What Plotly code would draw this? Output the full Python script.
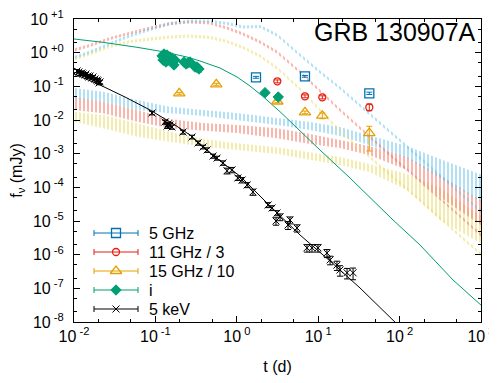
import plotly.graph_objects as go

# ---------------- model bands ----------------
t_thin = [0.01, 0.01572, 0.02769, 0.04875, 0.0858, 0.1511, 0.266, 0.4687, 0.7577, 1.192,
          1.928, 3.118, 5.975, 10.52, 18.53, 57.41, 178.1, 552.1, 1028]
blue_thin_hi = [0.796, 1.16, 2.046, 3.512, 5.404, 8.035, 9.66, 9.66, 8.145, 6.411,
                6.634, 3.71, 0.945, 0.2954, 0.0989, 0.00903, 0.000825, 7.53e-5, 2.05e-5]
blue_thin_lo = [0.649, 0.945, 1.667, 2.861, 4.401, 6.545, 7.87, 7.87, 6.634, 5.222,
                5.404, 3.021, 0.770, 0.2406, 0.0805, 0.00735, 0.000672, 6.13e-5, 1.67e-5]
red_thin_hi = [1.33, 1.809, 2.92, 4.253, 5.99, 8.145, 9.02, 8.43, 5.99, 3.972,
               2.298, 1.16, 0.2954, 0.0805, 0.02197, 0.001874, 0.000171, 1.562e-5, 3.98e-6]
red_thin_lo = [1.083, 1.474, 2.378, 3.464, 4.877, 6.634, 7.35, 6.865, 4.877, 3.235,
               1.872, 0.9447, 0.2406, 0.0656, 0.0179, 0.001526, 0.0001393, 1.272e-5, 3.24e-6]
yel_thin_hi = [0.7185, 1.012, 1.69, 2.378, 2.821, 3.235, 3.464, 3.127, 2.378, 1.578,
               0.8823, 0.3884, 0.0923, 0.02197, 0.005225, 0.000477, 4.665e-5, 3.977e-6, 1.085e-6]
yel_thin_lo = [0.5854, 0.824, 1.376, 1.937, 2.298, 2.635, 2.821, 2.547, 1.937, 1.285,
               0.7185, 0.3163, 0.0752, 0.0179, 0.004256, 0.000389, 3.8e-5, 3.24e-6, 8.84e-7]

t_wide = [0.01, 0.0227, 0.0594, 0.1511, 0.3843, 1.006, 3.118, 7.93, 18.53, 42.07, 123.3, 313.3, 1028]
blue_wide_hi = [0.0892, 0.06929, 0.03929, 0.02485, 0.01983, 0.01615, 0.01147, 0.00873, 0.0062,
                0.00359, 0.00169, 0.000695, 0.0002327]
blue_wide_lo = [0.04504, 0.03498, 0.01983, 0.01582, 0.01315, 0.01001, 0.00711, 0.00505, 0.00335,
                0.001811, 0.000744, 0.0001895, 3.672e-5]
red_wide_hi = [0.04825, 0.03498, 0.01983, 0.01072, 0.00815, 0.00711, 0.00567, 0.003842, 0.002548,
               0.00169, 0.000797, 0.0002327, 3.93e-5]
red_wide_lo = [0.01983, 0.01582, 0.00891, 0.00567, 0.004814, 0.004114, 0.002862, 0.00194, 0.001475,
               0.000914, 0.0003276, 5.17e-5, 7.11e-6]
yel_wide_hi = [0.01765, 0.01409, 0.00799, 0.004496, 0.002729, 0.002033, 0.001547, 0.001122, 0.000797,
               0.000494, 0.000249, 9.56e-5, 1.316e-5]
yel_wide_lo = [0.00891, 0.00567, 0.003193, 0.002269, 0.001612, 0.001286, 0.000978, 0.000649, 0.000461,
               0.0002857, 8.34e-5, 1.072e-5, 2.077e-6]

# ---------------- model lines ----------------
t_xmod = [0.01, 0.02086, 0.04231, 0.0858, 0.174, 0.266, 0.5397, 1.126, 2.558, 5.975, 13.96, 32.63, 101.2]
f_xmod = [0.2325, 0.1096, 0.04826, 0.01983, 0.00711, 0.00359, 0.000796, 0.000203, 2.79e-5,
          3.85e-6, 6.5e-7, 1.026e-7, 7.1e-9]
t_imod = [0.01, 0.0227, 0.0594, 0.124, 0.2443, 0.3531, 0.6218, 1.006, 1.452, 2.099, 3.395,
          5.975, 10.52, 24.58, 82.99, 178.1, 452.9, 1028]
f_imod = [2.547, 2.032, 1.444, 1.069, 0.7436, 0.5656, 0.3505, 0.1894, 0.1023, 0.0499, 0.01765,
          0.00472, 0.001285, 0.0001897, 1.072e-5, 1.94e-6, 1.77e-7, 2.99e-8]

# ---------------- data ----------------
t_5ghz = [1.721, 6.88, 42.45]
f_5ghz = [0.1856, 0.1987, 0.0621]
e_5ghz = [0.012, 0.012, 0.005]

t_11ghz = [3.145, 6.88, 11.23, 42.45]
f_11ghz = [0.1411, 0.0506, 0.0473, 0.02385]
e_11ghz_up = [0.014, 0.005, 0.005, 0.006]
e_11ghz_dn = [0.014, 0.005, 0.005, 0.005]

t_15ghz = [0.1966, 0.56, 3.145, 6.88, 11.23, 42.45]
f_15ghz = [0.0621, 0.115, 0.0355, 0.0169, 0.0134, 0.0041]
e_15ghz_up = [0.004, 0.008, 0.003, 0.0015, 0.0028, 0.0024]
e_15ghz_dn = [0.004, 0.008, 0.003, 0.0015, 0.0025, 0.0029]

t_i = [0.1206, 0.124, 0.1275, 0.1312, 0.1349, 0.1388, 0.1511, 0.16, 0.1645, 0.1692, 0.174,
       0.2245, 0.2377, 0.2515, 0.266, 0.3066, 0.3243, 0.343, 2.221, 3.234]
f_i = [0.796, 0.6058, 0.913, 0.6944, 0.5283, 0.8527, 0.7436, 0.6944, 0.5283, 0.4302, 0.6058,
       0.5283, 0.461, 0.4934, 0.5283, 0.375, 0.375, 0.327, 0.0647, 0.0482]
e_i = [0.08, 0.08, 0.09, 0.1, 0.1, 0.09, 0.08, 0.08, 0.08, 0.07, 0.07,
       0.06, 0.06, 0.06, 0.06, 0.05, 0.05, 0.06, 0.005, 0.004]

t_x = [0.0109, 0.0115, 0.0119, 0.0125, 0.0129, 0.0137, 0.0140, 0.0149, 0.0153, 0.0157, 0.0166,
       0.0171, 0.0181, 0.0192, 0.0197, 0.0209, 0.0203, 0.0908, 0.131, 0.139, 0.143, 0.151, 0.160,
       0.218, 0.282, 0.334, 0.385, 0.431, 0.510, 0.572, 0.677, 0.758, 0.873, 1.03, 1.16, 1.34,
       1.58, 2.42, 2.71, 3.12, 3.40, 3.03, 4.50, 4.26, 5.49, 7.28, 8.39, 9.94, 12.8, 14.0, 17.0,
       18.5, 22.6, 26.8]
f_x = [0.286, 0.267, 0.240, 0.249, 0.232, 0.217, 0.232, 0.203, 0.189, 0.203, 0.177,
       0.189, 0.165, 0.154, 0.144, 0.135, 0.126, 0.0162, 0.0087, 0.0066, 0.0076, 0.0071, 0.0062,
       0.0044, 0.00313, 0.00208, 0.00158, 0.00129, 0.00085, 0.00074, 0.00053, 0.00031, 0.00033,
       0.00019, 0.000165, 0.000118, 7.3e-5, 3.0e-5, 2.44e-5, 1.73e-5, 1.32e-5, 1.0e-5, 1.07e-5,
       7.6e-6, 6.2e-6, 1.59e-6, 1.59e-6, 1.59e-6, 1.12e-6, 7.0e-7, 4.9e-7, 3.5e-7, 2.9e-7, 2.9e-7]
e_x = [0.03, 0.03, 0.03, 0.03, 0.025, 0.025, 0.025, 0.02, 0.02, 0.02, 0.02,
       0.02, 0.02, 0.018, 0.018, 0.016, 0.015, 0.002, 0.0012, 0.001, 0.001, 0.001, 0.0009,
       0.0006, 0.0004, 0.0003, 0.0002, 0.0002, 0.00012, 0.0001, 0.00008, 0.00006, 0.00006,
       0.00003, 0.00003, 0.00002, 1.5e-5, 5e-6, 4e-6, 3e-6, 3e-6, 2.5e-6, 2.5e-6,
       2e-6, 1.5e-6, 4e-7, 4e-7, 4e-7, 3e-7, 2e-7, 1.5e-7, 1.2e-7, 1e-7, 1.1e-7]

x_ticks = [0.01, 0.1, 1, 10, 100, 1000]
x_ticklabels = ["10<sup> -2</sup>", "10<sup> -1</sup>", "10<sup> 0</sup>", "10<sup> 1</sup>",
                "10<sup> 2</sup>", "10<sup> 3</sup>"]
y_ticks = [1e-8, 1e-7, 1e-6, 1e-5, 1e-4, 1e-3, 1e-2, 1e-1, 1, 10]
y_ticklabels = ["10<sup> -8</sup>", "10<sup> -7</sup>", "10<sup> -6</sup>", "10<sup> -5</sup>",
                "10<sup> -4</sup>", "10<sup> -3</sup>", "10<sup> -2</sup>", "10<sup> -1</sup>",
                "10<sup> +0</sup>", "10<sup> +1</sup>"]
x_minor = [m * d for d in [0.01, 0.1, 1, 10, 100] for m in (2, 5)]
y_minor = [m * d for d in [1e-8, 1e-7, 1e-6, 1e-5, 1e-4, 1e-3, 1e-2, 1e-1, 1] for m in (2, 5)]

legend_names = ["5 GHz", "11 GHz / 3", "15 GHz / 10", "i", "5 keV"]

C_BLUE_BAND = "#66c2ea"
C_RED_BAND = "#f66c5a"
C_YEL_BAND = "#eada5c"
C_5 = "#0072b2"
C_11 = "#e51e10"
C_15 = "#e69f00"
C_I = "#009e73"
FONT = "Liberation Sans, Arial, sans-serif"

# The page body has an 8 px margin, so the figure is drawn 8 px right/down of the window corner.
BODY = 8
FIG_W, FIG_H = 497, 383
# plot-area geometry in window pixels
PX_L, PX_R, PX_T, PX_B = 74, 481, 19, 322

fig = go.Figure()


def band(t, lo, hi, color, solidity):
    fig.add_trace(go.Scatter(
        x=list(t) + list(t)[::-1], y=list(hi) + list(lo)[::-1],
        mode="lines", line=dict(width=0, color=color), fill="toself",
        fillcolor="rgba(0,0,0,0)",
        fillpattern=dict(shape="|", fgcolor=color, bgcolor="rgba(0,0,0,0)", size=4, solidity=solidity),
        showlegend=False, hoverinfo="skip"))


band(t_wide, yel_wide_lo, yel_wide_hi, C_YEL_BAND, 0.5)
band(t_wide, red_wide_lo, red_wide_hi, C_RED_BAND, 0.5)
band(t_wide, blue_wide_lo, blue_wide_hi, C_BLUE_BAND, 0.5)
band(t_thin, yel_thin_lo, yel_thin_hi, C_YEL_BAND, 0.55)
band(t_thin, red_thin_lo, red_thin_hi, C_RED_BAND, 0.55)
band(t_thin, blue_thin_lo, blue_thin_hi, C_BLUE_BAND, 0.55)

fig.add_trace(go.Scatter(x=t_imod, y=f_imod, mode="lines", line=dict(color=C_I, width=1),
                         showlegend=False, hoverinfo="skip"))
fig.add_trace(go.Scatter(x=t_xmod, y=f_xmod, mode="lines", line=dict(color="black", width=1),
                         showlegend=False, hoverinfo="skip"))

styles = [
    (C_5, "square-open", 9, 1.3),
    (C_11, "circle-open", 7, 1.3),
    (C_15, "triangle-up-open", 10, 1.3),
    (C_I, "diamond", 8, 1.0),
    ("black", "x-thin", 7, 1.0),
]
datasets = [
    (t_5ghz, f_5ghz, e_5ghz, e_5ghz),
    (t_11ghz, f_11ghz, e_11ghz_up, e_11ghz_dn),
    (t_15ghz, f_15ghz, e_15ghz_up, e_15ghz_dn),
    (t_i, f_i, e_i, e_i),
    (t_x, f_x, e_x, e_x),
]

for (t, f, up, dn), (color, symbol, size, lw) in zip(datasets, styles):
    fig.add_trace(go.Scatter(
        x=t, y=f, mode="markers",
        marker=dict(symbol=symbol, size=size, color=color, line=dict(color=color, width=lw)),
        error_y=dict(type="data", array=up, arrayminus=dn, color=color, thickness=1, width=3),
        showlegend=False))

# ---- manual legend (gnuplot style: line with error-bar caps, marker in middle) ----
LEG_X0, LEG_X1, LEG_TXT, LEG_Y0, LEG_DY = 94, 138, 147, 233, 19
for k, (name, (color, symbol, size, lw)) in enumerate(zip(legend_names, styles)):
    yy = LEG_Y0 + k * LEG_DY
    fig.add_shape(type="line", xref="x2", yref="y2", x0=LEG_X0, x1=LEG_X1, y0=yy, y1=yy,
                  line=dict(color=color, width=1))
    for xc in (LEG_X0, LEG_X1):
        fig.add_shape(type="line", xref="x2", yref="y2", x0=xc, x1=xc, y0=yy - 3, y1=yy + 3,
                      line=dict(color=color, width=1))
    fig.add_trace(go.Scatter(
        x=[(LEG_X0 + LEG_X1) / 2], y=[yy], xaxis="x2", yaxis="y2", mode="markers",
        marker=dict(symbol=symbol, size=size, color=color, line=dict(color=color, width=lw)),
        showlegend=False, hoverinfo="skip"))
    fig.add_annotation(text=name, xref="x2", yref="y2", x=LEG_TXT, y=yy, xanchor="left",
                       yanchor="middle", showarrow=False,
                       font=dict(size=16, color="black", family=FONT))

fig.add_annotation(text="GRB 130907A", xref="x2", yref="y2", x=478, y=32,
                   xanchor="right", yanchor="middle", showarrow=False,
                   font=dict(size=25, color="black", family=FONT))

axis_common = dict(type="log", showline=True, linecolor="black", linewidth=1, mirror="allticks",
                   ticks="inside", ticklen=6, tickcolor="black", tickwidth=1, showgrid=False,
                   zeroline=False, tickmode="array", automargin=False, ticklabeloverflow="allow",
                   tickfont=dict(size=16, color="black", family=FONT))

xaxis = dict(axis_common, range=[-2, 3], tickvals=x_ticks, ticktext=x_ticklabels,
             minor=dict(tickmode="array", tickvals=x_minor, ticks="inside", ticklen=3,
                        tickcolor="black", showgrid=False),
             title=dict(text="t (d)", font=dict(size=16, color="black", family=FONT), standoff=16))
yaxis = dict(axis_common, range=[-8, 1], tickvals=y_ticks, ticktext=y_ticklabels,
             minor=dict(tickmode="array", tickvals=y_minor, ticks="inside", ticklen=3,
                        tickcolor="black", showgrid=False),
             ticklabelstandoff=6,
             title=dict(text="f<sub>ν</sub> (mJy)", font=dict(size=16, color="black", family=FONT),
                        standoff=9))

fig.update_layout(
    width=FIG_W, height=FIG_H,
    margin=dict(l=PX_L - BODY, r=FIG_W - (PX_R - BODY), t=PX_T - BODY, b=FIG_H - (PX_B - BODY),
                autoexpand=False),
    paper_bgcolor="white", plot_bgcolor="white", showlegend=False,
    font=dict(family=FONT, size=16, color="black"),
    xaxis=xaxis, yaxis=yaxis,
    xaxis2=dict(overlaying="x", range=[PX_L, PX_R], visible=False, anchor="y2"),
    yaxis2=dict(overlaying="y", range=[PX_B, PX_T], visible=False, anchor="x2"),
)

fig.write_html("out.html")
